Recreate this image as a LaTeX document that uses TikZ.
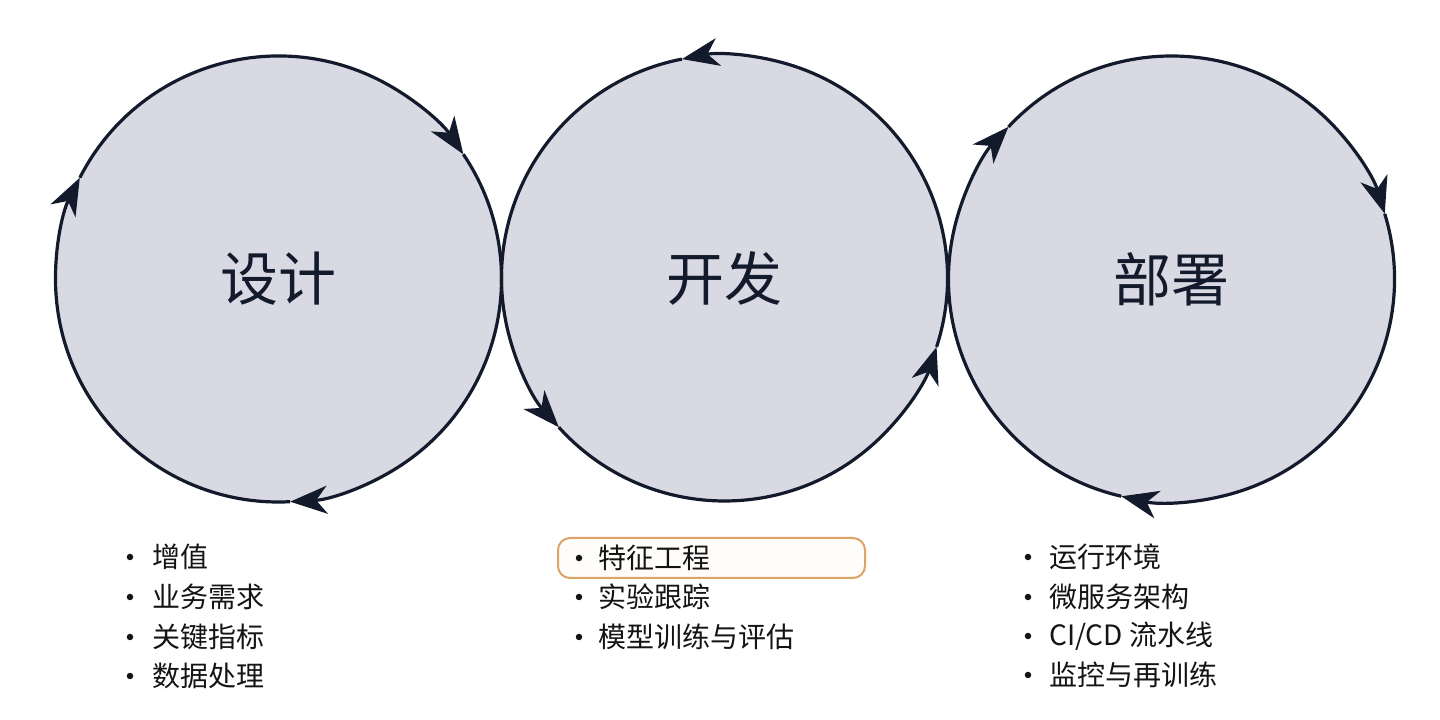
\documentclass[tikz,border=0pt]{standalone}
\usepackage{fontspec}
\setmainfont{Noto Sans CJK SC}
\usetikzlibrary{arrows.meta}
\definecolor{ink}{HTML}{121A2B}
\definecolor{disc}{HTML}{D9D9E3}
\definecolor{txt}{HTML}{141414}
\definecolor{hl}{HTML}{DDA466}
\definecolor{hlfill}{HTML}{FFFDFA}
\tikzset{
  disk/.style={circle, minimum size=446pt, inner sep=0pt, outer sep=0pt, fill=disc},
  cyc/.style={ink, line width=3.2pt, -{Stealth[length=37pt,width=28pt,inset=11pt]}},
  title/.style={text=ink, font=\fontsize{58}{62}\selectfont},
  item/.style={anchor=west, text=txt, inner sep=0pt, font=\fontsize{28}{30}\selectfont},
  dot/.style={circle, fill=txt, minimum size=6.5pt, inner sep=0pt},
  hlbox/.style={draw=hl, fill=hlfill, line width=2pt, rounded corners=12pt}
}
\begin{document}
\begin{tikzpicture}[x=1pt,y=1pt]
\useasboundingbox[fill=white] (0,0) rectangle (1440,720);
% circles
\node[disk] (c1) at (278.5,441) {};
\node[disk] (c2) at (724.5,442) {};
\node[disk] (c3) at (1171.5,441) {};
% cycle arcs: design (clockwise)
\draw[cyc] (c1.153) arc[start angle=153, end angle=34, radius=223];
\draw[cyc] (c1.34) arc[start angle=34, end angle=-87, radius=223];
\draw[cyc] (c1.273) arc[start angle=-87, end angle=-207, radius=223];
% development (counterclockwise)
\draw[cyc] (c2.342) arc[start angle=-18, end angle=101, radius=223];
\draw[cyc] (c2.101) arc[start angle=101, end angle=222, radius=223];
\draw[cyc] (c2.222) arc[start angle=222, end angle=342, radius=223];
% deployment (clockwise)
\draw[cyc] (c3.257) arc[start angle=257, end angle=137, radius=223];
\draw[cyc] (c3.137) arc[start angle=137, end angle=17, radius=223];
\draw[cyc] (c3.17) arc[start angle=17, end angle=-103, radius=223];
% titles
\node[title] (t1) at (c1) {设计};
\node[title] (t2) at (c2) {开发};
\node[title] (t3) at (c3) {部署};
% highlight box
\node[hlbox, minimum width=307pt, minimum height=40pt, inner sep=0pt] (hb) at (711.5,162) {};
% left list
\node[dot] (b11) at (130,163) {}; \node[item] (i11) at (152,163) {增值};
\node[dot] (b12) at (130,123) {}; \node[item] (i12) at (152,123) {业务需求};
\node[dot] (b13) at (130,83) {};  \node[item] (i13) at (152,83) {关键指标};
\node[dot] (b14) at (130,44) {};  \node[item] (i14) at (152,44) {数据处理};
% middle list
\node[dot] (b21) at (579,162) {}; \node[item] (i21) at (598,162) {特征工程};
\node[dot] (b22) at (579,123) {}; \node[item] (i22) at (598,123) {实验跟踪};
\node[dot] (b23) at (579,83) {};  \node[item] (i23) at (598,83) {模型训练与评估};
% right list
\node[dot] (b31) at (1028,163) {}; \node[item] (i31) at (1049,163) {运行环境};
\node[dot] (b32) at (1028,123) {}; \node[item] (i32) at (1049,123) {微服务架构};
\node[dot] (b33) at (1028,84) {};  \node[item] (i33) at (1049,84) {CI/CD 流水线};
\node[dot] (b34) at (1028,45) {};  \node[item] (i34) at (1049,45) {监控与再训练};
\end{tikzpicture}
\end{document}
